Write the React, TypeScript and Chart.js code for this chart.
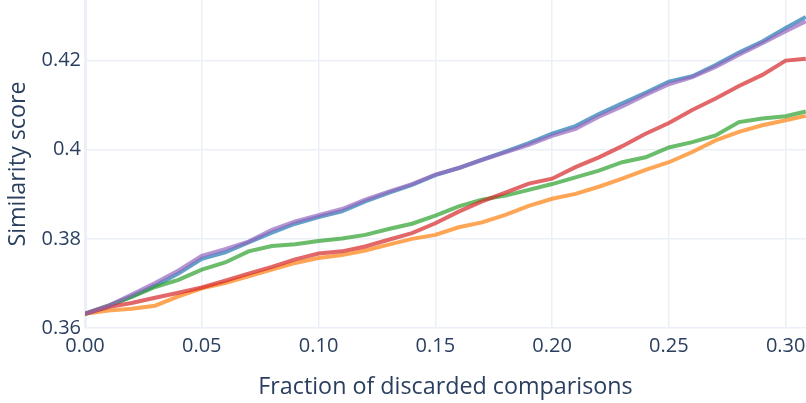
import React, { useEffect, useRef } from 'react';
import { Chart, registerables } from 'chart.js';

Chart.register(...registerables);

// fraction of discarded comparisons (x positions of the samples)
const fractions = [
  0, 0.01, 0.02, 0.03, 0.04, 0.05, 0.06, 0.07, 0.08, 0.09, 0.1, 0.11, 0.12, 0.13, 0.14, 0.15,
  0.16, 0.17, 0.18, 0.19, 0.2, 0.21, 0.22, 0.23, 0.24, 0.25, 0.26, 0.27, 0.28, 0.29, 0.3, 0.3086,
];

const blueScores = [
  0.3632, 0.3649, 0.3671, 0.3695, 0.3722, 0.3755, 0.377, 0.3792, 0.3814, 0.3834, 0.3849, 0.3862,
  0.3884, 0.3903, 0.3921, 0.3943, 0.3959, 0.3978, 0.3996, 0.4015, 0.4036, 0.4053, 0.408, 0.4104,
  0.4128, 0.4153, 0.4165, 0.419, 0.4218, 0.4243, 0.4273, 0.4298,
];
const orangeScores = [
  0.3632, 0.3639, 0.3643, 0.365, 0.3671, 0.3689, 0.3701, 0.3716, 0.3731, 0.3746, 0.3757, 0.3764,
  0.3774, 0.3787, 0.38, 0.3809, 0.3826, 0.3837, 0.3854, 0.3874, 0.389, 0.3901, 0.3917, 0.3935,
  0.3955, 0.3972, 0.3995, 0.4021, 0.404, 0.4055, 0.4066, 0.4076,
];
const greenScores = [
  0.3632, 0.365, 0.367, 0.3692, 0.3708, 0.3731, 0.3747, 0.3772, 0.3784, 0.3788, 0.3795, 0.3801,
  0.3809, 0.3822, 0.3834, 0.3852, 0.3873, 0.3888, 0.3897, 0.391, 0.3923, 0.3938, 0.3953, 0.3972,
  0.3983, 0.4005, 0.4017, 0.4032, 0.4062, 0.407, 0.4075, 0.4086,
];
const redScores = [
  0.3632, 0.3647, 0.3656, 0.3668, 0.3679, 0.3691, 0.3706, 0.3722, 0.3737, 0.3754, 0.3767, 0.3772,
  0.3783, 0.3798, 0.3813, 0.3835, 0.3861, 0.3884, 0.3904, 0.3924, 0.3935, 0.3961, 0.3983, 0.4008,
  0.4036, 0.406, 0.4089, 0.4115, 0.4143, 0.4168, 0.42, 0.4204,
];
const purpleScores = [
  0.3632, 0.365, 0.3675, 0.3701, 0.3729, 0.3762, 0.3777, 0.3794, 0.382, 0.3839, 0.3853, 0.3867,
  0.3888, 0.3906, 0.3923, 0.3944, 0.3959, 0.3977, 0.3994, 0.4011, 0.4031, 0.4047, 0.4074, 0.4097,
  0.4123, 0.4147, 0.4163, 0.4186, 0.4213, 0.4239, 0.4266, 0.4288,
];

const xTicks = [0, 0.05, 0.1, 0.15, 0.2, 0.25, 0.3];
const yTicks = [0.36, 0.38, 0.4, 0.42];

const textColor = '#2a3f5f';
const gridColor = '#ebf0f8';
const fontFamily = '"Open Sans", sans-serif';

const series = [
  { name: 'blue', values: blueScores, color: 'rgba(31, 119, 180, 0.7)' },
  { name: 'orange', values: orangeScores, color: 'rgba(255, 127, 14, 0.7)' },
  { name: 'green', values: greenScores, color: 'rgba(44, 160, 44, 0.7)' },
  { name: 'red', values: redScores, color: 'rgba(214, 39, 40, 0.7)' },
  { name: 'purple', values: purpleScores, color: 'rgba(148, 103, 189, 0.7)' },
];

const SimilarityChart: React.FC = () => {
  const canvasRef = useRef<HTMLCanvasElement>(null);
  const chartRef = useRef<Chart | null>(null);

  useEffect(() => {
    if (!canvasRef.current) return;
    const ctx = canvasRef.current.getContext('2d');
    if (!ctx) return;

    if (chartRef.current) {
      chartRef.current.destroy();
      chartRef.current = null;
    }

    chartRef.current = new Chart(ctx, {
      type: 'line',
      data: {
        datasets: series.map((s, i) => ({
          label: s.name,
          data: fractions.map((x, j) => ({ x, y: s.values[j] })),
          borderColor: s.color,
          backgroundColor: s.color,
          borderWidth: 4,
          pointRadius: 0,
          tension: 0,
          fill: false,
          order: series.length - i, // later traces on top, like plotly
        })),
      },
      options: {
        animation: false,
        responsive: true,
        maintainAspectRatio: false,
        layout: { padding: 0 },
        plugins: {
          legend: { display: false },
          tooltip: { enabled: false },
        },
        scales: {
          x: {
            type: 'linear',
            min: 0,
            max: 0.3087,
            afterBuildTicks: (scale: any) => {
              scale.ticks = xTicks.map((v) => ({ value: v }));
            },
            afterFit: (scale: any) => {
              scale.height = 75;
              scale.paddingLeft = 0;
              scale.paddingRight = 0;
            },
            ticks: {
              color: textColor,
              font: { family: fontFamily, size: 20 },
              padding: 6,
              maxRotation: 0,
              autoSkip: false,
              callback: (v: any) => Number(v).toFixed(2),
            },
            grid: {
              color: gridColor,
              drawTicks: false,
              lineWidth: (c: any) => (c.tick && c.tick.value === 0 ? 3 : 1.5),
            },
            border: { display: false },
            title: {
              display: true,
              text: 'Fraction of discarded comparisons',
              color: textColor,
              font: { family: fontFamily, size: 23.3 },
              padding: { top: 0, bottom: 2 },
            },
          },
          y: {
            type: 'linear',
            min: 0.36,
            max: 0.4336,
            afterBuildTicks: (scale: any) => {
              scale.ticks = yTicks.map((v) => ({ value: v }));
            },
            afterFit: (scale: any) => {
              scale.width = 85;
              scale.paddingTop = 0;
              scale.paddingBottom = 0;
            },
            ticks: {
              color: textColor,
              font: { family: fontFamily, size: 20 },
              padding: 4,
              autoSkip: false,
              callback: (v: any) => String(Number(Number(v).toFixed(2))),
            },
            grid: {
              color: gridColor,
              drawTicks: false,
              lineWidth: 1.5,
            },
            border: { display: false },
            title: {
              display: true,
              text: 'Similarity score',
              color: textColor,
              font: { family: fontFamily, size: 23.3 },
              padding: { top: 4, bottom: 0 },
            },
          },
        },
      },
    });

    return () => {
      if (chartRef.current) {
        chartRef.current.destroy();
        chartRef.current = null;
      }
    };
  }, []);

  return (
    <div style={{ position: 'fixed', left: 0, top: 0, width: 806, height: 403, background: '#fff' }}>
      <canvas ref={canvasRef}></canvas>
    </div>
  );
};

export default function App() {
  return <SimilarityChart />;
}
